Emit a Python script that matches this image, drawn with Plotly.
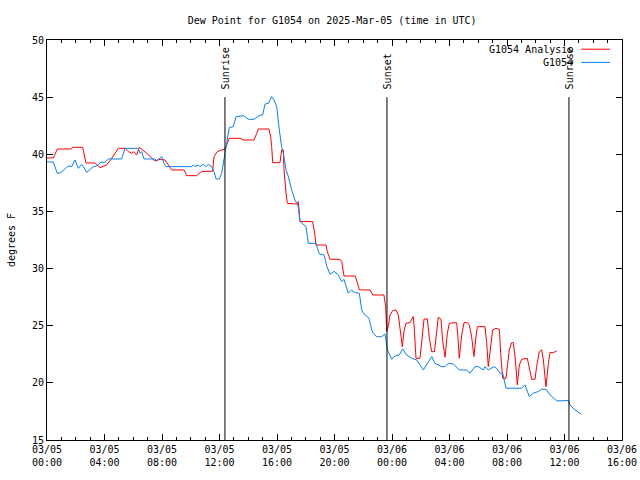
import pandas as pd
import plotly.graph_objects as go

BASE = pd.Timestamp("2025-03-05 00:00")

# Observed dew point (G1054): hours since 03/05 00:00 UTC, degrees F
obs_hours = [0.00, 0.44, 0.72, 0.95, 1.18, 1.41, 1.60, 1.72, 1.95, 2.18, 2.41, 2.53, 2.76, 2.99, 3.22,
             3.46, 3.57, 3.69, 4.03, 4.27, 5.19, 5.43, 6.35, 6.47, 6.59, 6.75, 7.51, 7.63, 7.86, 7.98,
             8.14, 8.28, 10.06, 10.18, 10.30, 10.53, 10.64, 10.88, 11.04, 11.22, 11.46, 11.62, 11.76,
             11.99, 12.15, 12.27, 12.43, 12.54, 12.68, 12.96, 13.15, 13.66, 13.84, 14.01, 14.40, 14.59,
             14.82, 15.00, 15.17, 15.40, 15.63, 15.79, 15.98, 16.16, 16.32, 16.44, 16.63, 16.79, 17.02,
             17.25, 17.48, 17.60, 18.02, 18.18, 18.71, 18.94, 19.27, 19.46, 19.69, 19.97, 20.27, 20.50,
             20.66, 20.96, 21.19, 21.43, 21.73, 21.89, 22.01, 22.40, 22.59, 22.70, 22.93, 23.28, 23.51,
             23.68, 23.98, 24.21, 24.51, 24.74, 25.02, 25.37, 25.72, 26.18, 26.41, 26.76, 26.99, 27.46,
             27.69, 27.92, 28.27, 28.68, 29.19, 29.43, 29.77, 30.01, 30.35, 30.47, 30.70, 31.10, 31.28,
             31.51, 31.70, 31.93, 33.02, 33.25, 33.55, 33.83, 34.18, 34.41, 34.71, 34.99, 35.46, 36.27,
             36.38, 36.73, 37.19]
obs_values = [39.35, 39.30, 38.33, 38.40, 38.63, 38.92, 38.98, 38.92, 39.50, 38.77, 39.12, 38.92, 38.42, 38.69, 38.92,
              38.98, 39.06, 39.30, 39.30, 39.59, 39.59, 40.52, 40.52, 40.09, 40.23, 39.59, 39.59, 39.44, 39.65, 39.79,
              39.21, 38.92, 38.92, 39.06, 38.92, 39.06, 38.92, 39.12, 38.92, 39.12, 38.92, 38.48, 37.84,
              37.84, 38.33, 39.21, 40.38, 41.25, 42.33, 42.42, 43.29, 43.38, 43.20, 43.06, 43.06, 43.20,
              43.43, 43.43, 44.40, 44.46, 45.04, 44.75, 44.17, 42.13, 40.67, 40.09, 38.63, 38.04, 36.88,
              36.00, 35.42, 34.11, 33.67, 32.21, 32.21, 31.28, 31.20, 30.23, 29.50, 29.76, 29.44, 28.86,
              29.06, 27.84, 28.13, 27.90, 27.84, 26.38, 26.09, 25.65, 24.63, 24.34, 24.04, 24.04, 24.28,
              22.88, 22.06, 22.35, 22.44, 22.97, 22.44, 22.15, 22.00, 21.13, 21.57, 22.30, 21.71, 21.42,
              21.42, 21.71, 21.65, 21.13, 21.13, 20.84, 21.42, 21.42, 21.13, 21.42, 21.13, 21.42, 21.27,
              20.84, 20.84, 19.53, 19.53, 19.82, 18.80, 19.10, 19.24, 19.44, 19.44, 18.95, 18.42, 18.45,
              18.07, 17.63, 17.25]

# Analysis dew point (G1054 Analysis)
ana_hours = [0.00, 0.44, 0.72, 1.67, 1.79, 2.48, 2.71, 3.34, 3.69, 4.15, 4.50, 4.96, 5.43, 5.66, 5.89,
             6.01, 6.24, 6.42, 6.93, 7.28, 7.51, 7.86, 8.21, 8.67, 9.53, 9.72, 10.41, 10.76, 11.52, 11.62,
             11.85, 12.15, 12.38, 12.68, 13.43, 13.66, 14.40, 14.59, 14.70, 15.44, 15.56, 15.63, 15.70,
             16.21, 16.32, 16.44, 16.49, 16.63, 16.72, 17.37, 17.48, 17.60, 18.48, 18.64, 18.71, 19.41,
             19.50, 19.69, 20.38, 20.50, 20.66, 21.45, 21.73, 22.47, 22.66, 23.44, 23.56, 23.63, 23.74,
             23.86, 24.05, 24.28, 24.44, 24.60, 24.72, 24.83, 24.97, 25.25, 25.48, 25.55, 25.67, 25.95,
             26.06, 26.23, 26.46, 26.60, 26.76, 26.95, 27.11, 27.22, 27.41, 27.53, 27.69, 27.85, 27.99,
             28.50, 28.61, 28.68, 28.85, 29.01, 29.24, 29.38, 29.54, 29.70, 29.84, 29.94, 30.47, 30.59,
             30.70, 30.82, 31.00, 31.23, 31.47, 31.56, 31.70, 31.93, 32.16, 32.32, 32.44, 32.56, 32.72,
             32.86, 33.02, 33.41, 33.60, 33.72, 33.95, 34.06, 34.25, 34.41, 34.53, 34.71, 34.88, 34.99,
             35.22, 35.46]
ana_values = [39.68, 39.68, 40.46, 40.46, 40.61, 40.61, 39.24, 39.24, 38.83, 39.06, 39.65, 40.52, 40.52, 40.23, 40.09,
              40.23, 39.94, 40.61, 40.09, 39.65, 39.41, 39.56, 39.50, 38.63, 38.63, 38.13, 38.13, 38.51, 38.51, 39.79,
              40.23, 40.38, 40.44, 41.40, 41.40, 41.25, 41.25, 41.83, 42.21, 42.21, 41.54, 40.67, 39.27,
              39.27, 40.38, 40.38, 38.63, 36.59, 35.71, 35.65, 35.86, 34.11, 34.11, 32.94, 32.06, 32.06,
              31.48, 30.81, 30.81, 30.61, 29.35, 29.35, 28.13, 28.13, 27.69, 27.69, 26.67, 24.48, 24.92,
              25.94, 26.32, 26.38, 25.94, 24.34, 23.17, 24.48, 25.21, 25.27, 25.80, 24.77, 22.15, 22.15,
              23.75, 25.59, 25.59, 23.90, 22.73, 22.73, 24.48, 25.74, 25.56, 23.61, 22.24, 24.34, 25.21,
              25.27, 23.61, 22.15, 24.19, 25.27, 25.27, 25.06, 24.04, 22.30, 24.04, 24.92, 24.92, 23.46,
              21.42, 22.88, 24.63, 24.77, 24.68, 22.59, 20.40, 20.40, 22.88, 23.52, 23.52, 22.30, 19.82,
              21.57, 22.06, 22.15, 20.99, 20.31, 20.31, 21.42, 22.73, 22.88, 22.00, 19.67, 21.71, 22.65,
              22.65, 22.79]

# Sun events (hours since 03/05 00:00 UTC)
event_names = ["Sunrise", "Sunset", "Sunrise"]
event_hours = [12.38, 23.65, 36.31]

tick_hours = [0, 4, 8, 12, 16, 20, 24, 28, 32, 36, 40]
tick_labels = ["03/05<br>00:00", "03/05<br>04:00", "03/05<br>08:00", "03/05<br>12:00", "03/05<br>16:00",
               "03/05<br>20:00", "03/06<br>00:00", "03/06<br>04:00", "03/06<br>08:00", "03/06<br>12:00",
               "03/06<br>16:00"]
y_ticks = [15, 20, 25, 30, 35, 40, 45, 50]

series_names = ["G1054 Analysis", "G1054"]
series_colors = ["#ff0000", "#0a80f0"]


def to_time(hours):
    return [BASE + pd.Timedelta(hours=h) for h in hours]


FONT = "DejaVu Sans Mono"

fig = go.Figure()
fig.add_trace(go.Scatter(x=to_time(ana_hours), y=ana_values, mode="lines", name=series_names[0],
                         line=dict(color=series_colors[0], width=1), showlegend=False))
fig.add_trace(go.Scatter(x=to_time(obs_hours), y=obs_values, mode="lines", name=series_names[1],
                         line=dict(color=series_colors[1], width=1), showlegend=False))

event_times = to_time(event_hours)
for name, t in zip(event_names, event_times):
    fig.add_shape(type="line", xref="x", yref="y", x0=t, x1=t, y0=15, y1=45,
                  line=dict(color="black", width=1))
    fig.add_annotation(x=t, y=45.5, xref="x", yref="y", text=name, textangle=-90,
                       showarrow=False, xanchor="center", yanchor="bottom",
                       font=dict(family=FONT, size=10, color="black"))

# custom legend (text right-aligned, sample on the right, as in the original)
legend_y = [0.977, 0.944]
for name, color, ly in zip(series_names, series_colors, legend_y):
    fig.add_annotation(x=0.919, y=ly, xref="paper", yref="paper", text=name, showarrow=False,
                       xanchor="right", yanchor="middle", font=dict(family=FONT, size=10, color="black"))
    fig.add_shape(type="line", xref="paper", yref="paper", x0=0.929, x1=0.979, y0=ly, y1=ly,
                  line=dict(color=color, width=1))

fig.update_layout(
    width=640, height=480,
    margin=dict(l=47, r=18, t=40, b=40, autoexpand=False),
    paper_bgcolor="white", plot_bgcolor="white",
    title=dict(text="Dew Point for G1054 on 2025-Mar-05 (time in UTC)", x=0.519,
               xanchor="center", xref="container", y=0.958, yref="container", yanchor="middle",
               font=dict(family=FONT, size=10, color="black")),
    font=dict(family=FONT, size=10, color="black"),
)
fig.update_xaxes(
    range=[BASE, BASE + pd.Timedelta(hours=40)],
    tickvals=to_time(tick_hours), ticktext=tick_labels,
    ticks="inside", ticklen=6, tickcolor="black", tickwidth=1,
    minor=dict(dtick=3600000, ticks="inside", ticklen=3, tickcolor="black", tickwidth=1),
    showgrid=False, zeroline=False, automargin=False,
    showline=True, linecolor="black", linewidth=1, mirror="allticks",
    tickfont=dict(family=FONT, size=10, color="black"),
)
fig.update_yaxes(
    range=[15, 50], tickvals=y_ticks,
    ticks="inside", ticklen=6, tickcolor="black", tickwidth=1,
    showgrid=False, zeroline=False, automargin=False,
    showline=True, linecolor="black", linewidth=1, mirror="allticks",
    title=dict(text="degrees F", standoff=14, font=dict(family=FONT, size=10, color="black")),
    tickfont=dict(family=FONT, size=10, color="black"),
)

fig.write_html("out.html", config={"displayModeBar": False},
               post_script="document.body.style.margin='0px';")
